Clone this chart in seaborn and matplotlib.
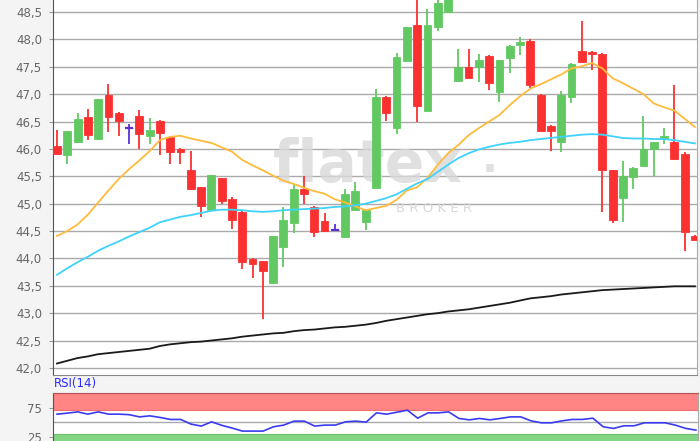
import matplotlib
matplotlib.use('Agg')
import matplotlib.pyplot as plt
from matplotlib.ticker import FuncFormatter
import numpy as np
import pandas as pd
import seaborn as sns

# daily candles
opens = [46.06, 45.88, 46.12, 46.59, 46.19, 46.99, 46.66, 46.39, 46.61, 46.23,
         46.51, 46.22, 46.00, 45.61, 45.30, 44.88, 45.46, 45.09, 44.85, 43.99,
         43.95, 43.55, 44.21, 44.65, 45.27, 44.93, 44.68, 44.52, 44.39, 44.89,
         44.67, 45.29, 46.95, 46.38, 47.61, 48.27, 46.70, 48.23, 48.50, 47.24,
         47.50, 47.50, 47.70, 47.04, 47.66, 47.90, 47.98, 46.99, 46.41, 46.12,
         46.95, 47.79, 47.77, 47.74, 45.61, 45.10, 45.49, 45.69, 46.00, 46.20,
         46.13, 45.91, 44.41]
highs = [46.35, 46.33, 46.65, 46.73, 46.92, 47.18, 46.67, 46.46, 46.71, 46.56,
         46.52, 46.23, 46.01, 45.96, 45.31, 45.53, 45.47, 45.13, 44.86, 44.00,
         43.96, 44.41, 44.93, 45.34, 45.50, 44.95, 44.83, 44.62, 45.26, 45.40,
         44.90, 47.10, 46.96, 47.76, 48.23, 48.85, 48.55, 48.72, 48.90, 47.82,
         47.83, 47.74, 47.71, 47.63, 47.89, 48.05, 48.00, 47.00, 46.44, 47.06,
         47.57, 48.34, 47.78, 47.75, 45.62, 45.78, 45.67, 46.61, 46.13, 46.38,
         47.16, 45.94, 44.42]
lows = [45.88, 45.73, 46.11, 46.16, 46.18, 46.30, 46.23, 46.09, 46.00, 46.09,
        45.88, 45.73, 45.73, 45.25, 44.76, 44.87, 44.99, 44.54, 43.81, 43.65,
        42.89, 43.54, 43.85, 44.46, 44.99, 44.39, 44.49, 44.51, 44.38, 44.88,
        44.51, 45.28, 46.51, 46.28, 47.60, 46.50, 46.69, 48.16, 48.49, 47.23,
        47.29, 47.23, 47.07, 46.86, 47.38, 47.71, 47.12, 46.32, 45.96, 45.95,
        46.83, 47.58, 47.44, 44.84, 44.65, 44.67, 45.26, 45.68, 45.51, 46.09,
        45.82, 44.13, 44.33]
closes = [45.90, 46.32, 46.54, 46.26, 46.91, 46.59, 46.51, 46.39, 46.28, 46.34,
          46.29, 45.95, 45.95, 45.26, 44.95, 45.52, 45.04, 44.70, 43.93, 43.90,
          43.77, 44.40, 44.71, 45.26, 45.17, 44.49, 44.50, 44.52, 45.18, 45.23,
          44.89, 46.94, 46.65, 47.67, 48.22, 46.78, 48.27, 48.67, 48.85, 47.49,
          47.30, 47.62, 47.20, 47.62, 47.88, 47.95, 47.16, 46.33, 46.33, 46.99,
          47.56, 47.59, 47.74, 45.62, 44.71, 45.50, 45.66, 46.00, 46.12, 46.23,
          45.82, 44.49, 44.34]

# moving averages
ma_short = [44.41, 44.50, 44.62, 44.80, 45.02, 45.24, 45.45, 45.63, 45.79, 45.96,
            46.16, 46.22, 46.24, 46.19, 46.15, 46.11, 46.03, 45.95, 45.80, 45.70,
            45.61, 45.51, 45.42, 45.36, 45.29, 45.23, 45.18, 45.08, 45.02, 44.95,
            44.88, 44.92, 44.96, 45.07, 45.24, 45.30, 45.47, 45.71, 45.92, 46.07,
            46.25, 46.38, 46.50, 46.62, 46.80, 46.96, 47.10, 47.18, 47.27, 47.36,
            47.47, 47.51, 47.57, 47.47, 47.29, 47.20, 47.10, 47.00, 46.83, 46.76,
            46.70, 46.55, 46.40]
ma_mid = [43.70, 43.82, 43.93, 44.03, 44.14, 44.23, 44.31, 44.40, 44.48, 44.56,
          44.66, 44.71, 44.76, 44.79, 44.83, 44.87, 44.89, 44.89, 44.88, 44.86,
          44.85, 44.86, 44.88, 44.89, 44.90, 44.91, 44.92, 44.94, 44.95, 44.97,
          45.00, 45.05, 45.10, 45.17, 45.27, 45.37, 45.45, 45.58, 45.71, 45.83,
          45.92, 45.99, 46.04, 46.08, 46.11, 46.13, 46.16, 46.18, 46.20, 46.22,
          46.24, 46.26, 46.27, 46.26, 46.23, 46.20, 46.19, 46.19, 46.18, 46.18,
          46.16, 46.13, 46.10]
ma_long = [42.08, 42.13, 42.18, 42.21, 42.25, 42.27, 42.29, 42.31, 42.33, 42.35,
           42.40, 42.43, 42.45, 42.47, 42.48, 42.50, 42.52, 42.54, 42.57, 42.59,
           42.61, 42.63, 42.64, 42.67, 42.69, 42.70, 42.72, 42.74, 42.75, 42.77,
           42.79, 42.82, 42.86, 42.89, 42.92, 42.95, 42.98, 43.00, 43.03, 43.05,
           43.07, 43.10, 43.13, 43.16, 43.19, 43.23, 43.27, 43.29, 43.31, 43.34,
           43.36, 43.38, 43.40, 43.42, 43.43, 43.44, 43.45, 43.46, 43.47, 43.48,
           43.49, 43.49, 43.49]
rsi = [63.7, 65.4, 67.6, 63.7, 67.6, 63.7, 63.7, 62.8, 59.0, 60.8,
       58.0, 54.6, 54.6, 46.6, 43.2, 50.5, 44.4, 39.8, 34.6, 34.6,
       34.6, 42.0, 44.9, 51.7, 51.7, 43.2, 44.9, 44.9, 50.5, 51.7,
       50.0, 65.9, 63.7, 67.1, 70.5, 56.8, 65.9, 65.9, 67.6, 56.3,
       53.9, 56.3, 53.9, 56.3, 59.0, 59.0, 52.2, 48.8, 48.8, 52.2,
       54.6, 54.6, 56.8, 42.0, 39.2, 43.7, 43.7, 48.8, 48.8, 48.8,
       44.9, 39.2, 36.3]

df = pd.DataFrame({'day': np.arange(len(opens)), 'open': opens, 'high': highs,
                   'low': lows, 'close': closes, 'ma_short': ma_short,
                   'ma_mid': ma_mid, 'ma_long': ma_long, 'rsi': rsi})

green = '#62c962'
red = '#fb3131'
purple = '#5b31d6'
colors = np.where(df['close'] > df['open'], green,
                  np.where(df['close'] < df['open'], red, purple))

comma = FuncFormatter(lambda v, p: ('%.1f' % v).replace('.', ','))

fig = plt.figure(figsize=(7, 4.41), dpi=100, facecolor='#f4f4f4')
ax = fig.add_axes([53 / 700, 1 - 375 / 441, 644 / 700, 375 / 441])
rsi_ax = fig.add_axes([53 / 700, 0, 645 / 700, 48 / 441])

# price panel
ax.set_facecolor('white')
ax.vlines(df['day'], df['low'], df['high'], colors=colors, lw=1.3, zorder=3)
body_low = np.minimum(df['open'], df['close'])
body_h = np.abs(df['close'] - df['open'])
ax.bar(df['day'], body_h, bottom=body_low, width=0.76, color=colors,
       edgecolor=colors, lw=0.6, zorder=3)
doji = df[df['open'] == df['close']]
ax.hlines(doji['open'], doji['day'] - 0.38, doji['day'] + 0.38, colors=purple, lw=1.6, zorder=3)

sns.lineplot(data=df, x='day', y='ma_short', ax=ax, color='#ffbb3c', lw=1.3, zorder=4)
sns.lineplot(data=df, x='day', y='ma_mid', ax=ax, color='#3fd2fb', lw=1.3, zorder=4)
sns.lineplot(data=df, x='day', y='ma_long', ax=ax, color='#1a1a1a', lw=1.3, zorder=4)

ax.set_xlim(-0.39, 62.2)
ax.set_ylim(41.87, 48.72)
ax.set_yticks(np.arange(42.0, 48.51, 0.5))
ax.yaxis.set_major_formatter(comma)
ax.grid(axis='y', color='#aaaaaa', lw=1.0)
ax.set_axisbelow(True)
ax.set_xticks([])
ax.set_xlabel('')
ax.set_ylabel('')
ax.tick_params(axis='y', length=3, color='#999999', labelsize=8.5, labelcolor='#666666', pad=5)
ax.spines['top'].set_visible(False)
ax.spines['left'].set_color('#555555')
ax.spines['bottom'].set_color('#888888')
ax.spines['right'].set_color('#aaaaaa')

# watermark
wm = '#d9d9d9'
ax.text(368 / 700, 1 - 182 / 441, 'flatex', transform=fig.transFigure, ha='center',
        va='baseline', fontsize=42, fontweight='bold', color=wm, alpha=0.8, zorder=2)
ax.text(490 / 700, 1 - 172 / 441, '.', transform=fig.transFigure, ha='center',
        va='baseline', fontsize=30, fontweight='bold', color=wm, alpha=0.8, zorder=2)
ax.text(434 / 700, 1 - 212 / 441, 'B R O K E R', transform=fig.transFigure,
        ha='center', va='baseline', fontsize=9.5, color=wm, zorder=2)

# RSI panel
rsi_ax.set_facecolor('white')
rsi_ax.axhspan(70, 100, color='#ff8585', lw=0)
rsi_ax.axhspan(0, 30, color='#84d684', lw=0)
rsi_ax.axhline(70, color='#ee7070', lw=0.8)
rsi_ax.axhline(30, color='#6cc06c', lw=0.8)
rsi_ax.axhline(50, color='#aaaaaa', lw=1.0)
sns.lineplot(data=df, x='day', y='rsi', ax=rsi_ax, color='#3b3bf0', lw=1.2, zorder=4)
rsi_ax.set_xlim(-0.39, 62.2)
rsi_ax.set_ylim(17.6, 100)
rsi_ax.set_yticks([25, 75])
rsi_ax.set_xticks([])
rsi_ax.set_xlabel('')
rsi_ax.set_ylabel('')
rsi_ax.tick_params(axis='y', length=3, color='#999999', labelsize=8.5, labelcolor='#666666', pad=5)
rsi_ax.spines['bottom'].set_visible(False)
rsi_ax.spines['top'].set_color('#b05050')
rsi_ax.spines['left'].set_color('#555555')
rsi_ax.spines['right'].set_color('#aaaaaa')
fig.text(54 / 700, 1 - 384 / 441, 'RSI(14)', color='#2a2aff', fontsize=8.5, va='center', ha='left')

plt.savefig('out.png', dpi=100, facecolor=fig.get_facecolor())
plt.close()
